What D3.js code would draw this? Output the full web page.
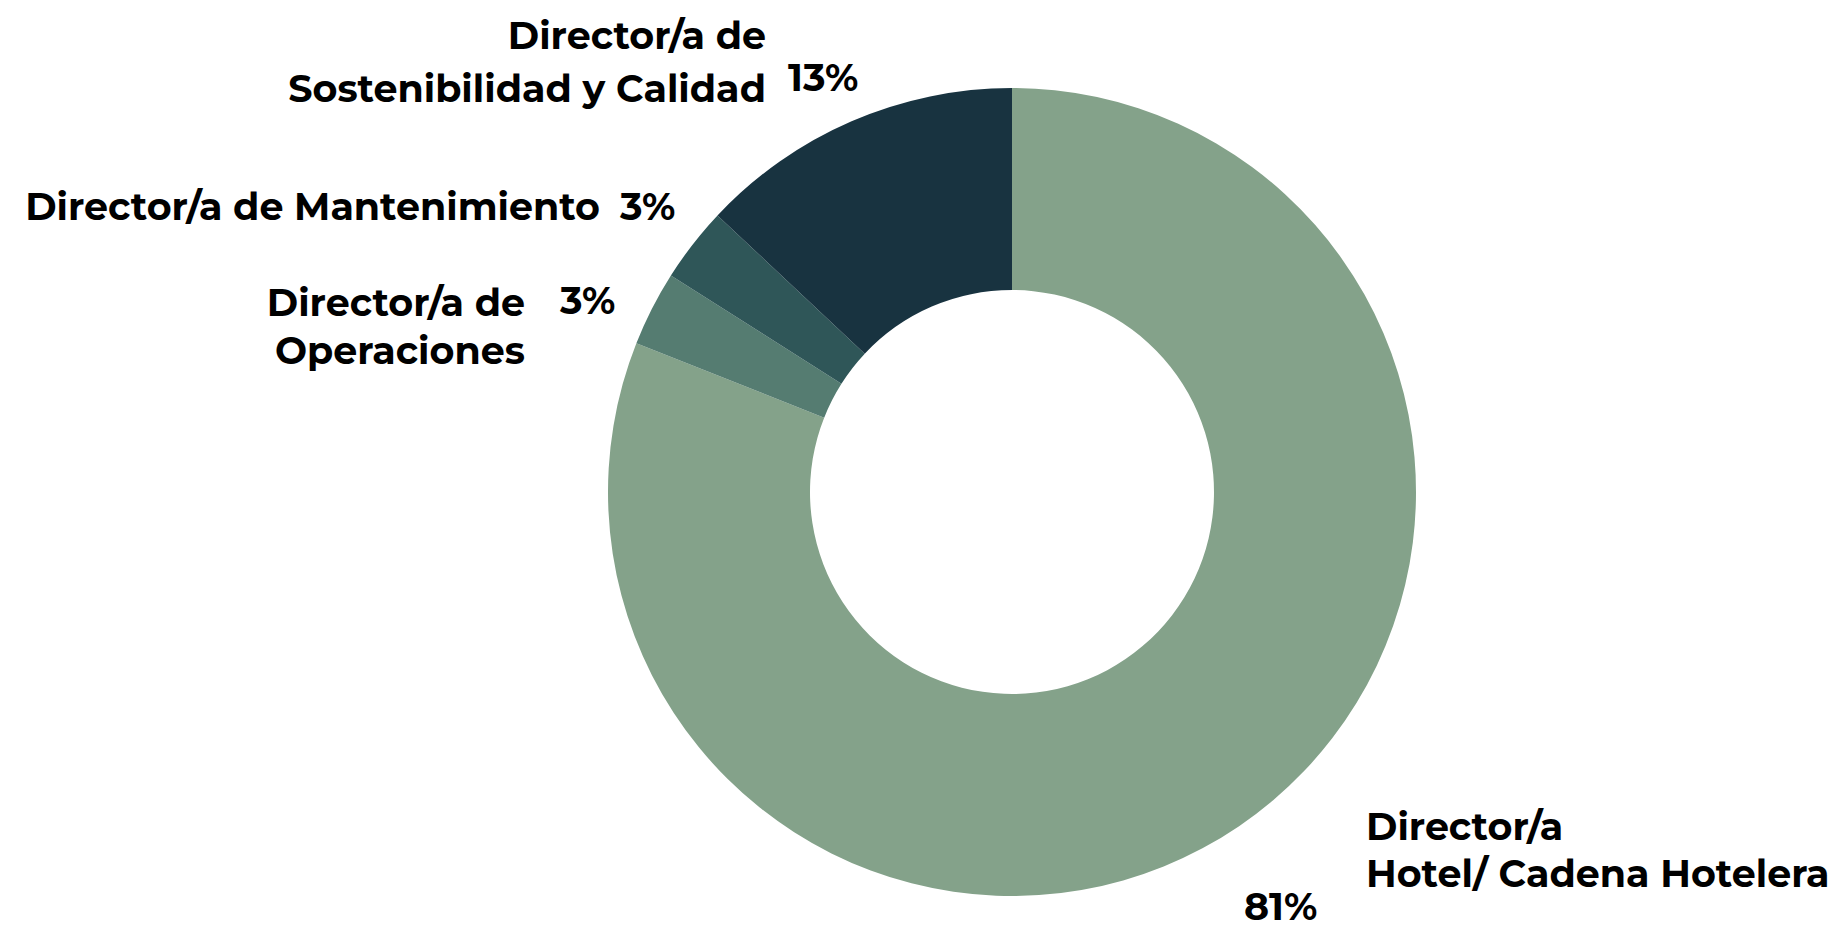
<!DOCTYPE html>
<html lang="es">
<head>
    <meta charset="UTF-8">
    <title>Cargo</title>
    <style>
        body { margin: 0; background: #FFFFFF; }
        svg text { font-family: Montserrat, Inter, "Noto Sans", sans-serif; font-weight: 700; fill: #000; }
    </style>
</head>
<body>
<div id="chart"></div>
<script src="https://d3js.org/d3.v7.min.js"></script>
<script>
    // datos
    const categories = ["Director/a Hotel/ Cadena Hotelera", "Director/a de Operaciones", "Director/a de Mantenimiento", "Director/a de Sostenibilidad y Calidad"];
    const values = [81, 3, 3, 13];
    const pctLabels = ["81%", "3%", "3%", "13%"];
    const nameLines = [["Director/a", "Hotel/ Cadena Hotelera"], ["Director/a de", "Operaciones"], ["Director/a de Mantenimiento"], ["Director/a de", "Sostenibilidad y Calidad"]];
    const colors = ["#84A28A", "#557C71", "#2F5658", "#183340"];

    const width = 1837, height = 928;
    const cx = 1012, cy = 492, outerR = 404, innerR = 202;
    const fontSize = 38;

    // posiciones de etiquetas (nombre: x, y de la primera línea, anchor, interlineado; pct: x, y)
    const nameLayout = [
        {x: 1366, y: 840, anchor: "start", lh: 47},
        {x: 525, y: 316, anchor: "end", lh: 48},
        {x: 600, y: 220, anchor: "end", lh: 0},
        {x: 766, y: 49, anchor: "end", lh: 53}
    ];
    const pctLayout = [
        {x: 1244, y: 920},
        {x: 560, y: 314},
        {x: 620, y: 220},
        {x: 788, y: 91}
    ];

    const svg = d3.select("#chart").append("svg")
        .attr("width", width)
        .attr("height", height);

    const pie = d3.pie().sort(null).value(d => d);
    const arc = d3.arc().innerRadius(innerR).outerRadius(outerR);

    const color = d3.scaleOrdinal().domain(categories).range(colors);

    const g = svg.append("g").attr("transform", `translate(${cx},${cy})`);
    g.selectAll("path")
        .data(pie(values))
        .join("path")
        .attr("d", arc)
        .attr("fill", (d, i) => color(categories[i]));

    // nombres
    nameLines.forEach(function (lines, i) {
        const t = svg.append("text")
            .attr("x", nameLayout[i].x)
            .attr("y", nameLayout[i].y)
            .attr("text-anchor", nameLayout[i].anchor)
            .style("font-size", fontSize + "px");
        lines.forEach(function (l, j) {
            t.append("tspan")
                .attr("x", nameLayout[i].x)
                .attr("dy", j === 0 ? 0 : nameLayout[i].lh)
                .text(l);
        });
    });

    // porcentajes
    svg.selectAll("text.pct")
        .data(pctLabels)
        .join("text")
        .attr("class", "pct")
        .attr("x", (d, i) => pctLayout[i].x)
        .attr("y", (d, i) => pctLayout[i].y)
        .style("font-size", fontSize + "px")
        .text(d => d);
</script>
</body>
</html>
